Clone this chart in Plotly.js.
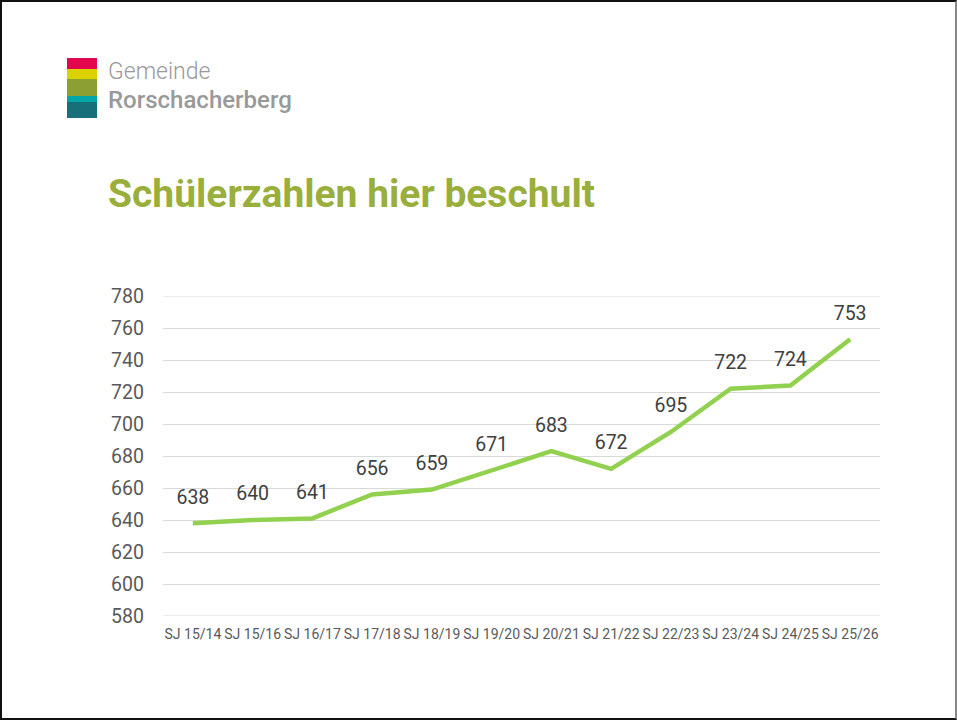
<!DOCTYPE html>
<html><head><meta charset="utf-8">
<script src="https://cdn.plot.ly/plotly-3.0.1.min.js"></script>
<style>
html,body{margin:0;padding:0;background:#fff;}
#frame{position:absolute;left:0;top:0;width:953px;height:716px;border-top:2px solid #111;border-left:2px solid #111;border-bottom:2px solid #111;border-right:2px solid #888;overflow:hidden;}
#chart{position:absolute;left:-2px;top:-2px;width:957px;height:720px;}
</style></head>
<body><div id="frame"><div id="chart"></div></div>
<script>
const categories = ["SJ 15/14","SJ 15/16","SJ 16/17","SJ 17/18","SJ 18/19","SJ 19/20","SJ 20/21","SJ 21/22","SJ 22/23","SJ 23/24","SJ 24/25","SJ 25/26"];
const pupils = [638,640,641,656,659,671,683,672,695,722,724,753];
const yTicks = [580,600,620,640,660,680,700,720,740,760,780];

const W=957,H=720,L=163,R=77,T=296,B=104;
const pw=W-L-R, ph=H-T-B;
const px=x=>(x-L)/pw, py=y=>(H-B-y)/ph;
const logoStripes=[["#e2074f",58,69],["#dbd300",69,79],["#8b9f32",79,96],["#00a6aa",96,102],["#176f79",102,118]];
const shapes=logoStripes.map(s=>({type:'rect',xref:'paper',yref:'paper',x0:px(67),x1:px(97),y0:py(s[2]),y1:py(s[1]),fillcolor:s[0],line:{width:0},layer:'above'}));
[yTicks[0], yTicks[yTicks.length-1]].forEach(v=>shapes.push({type:'line',xref:'paper',yref:'y',x0:0,x1:1,y0:v,y1:v,line:{color:'#d9d9d9',width:1},layer:'below'}));

const trace={x:categories,y:pupils,type:'scatter',mode:'lines+markers+text',text:pupils.map(String),textposition:'top center',
 textfont:{family:'Roboto, Liberation Sans, sans-serif',size:19.5,color:'#404040'},
 marker:{size:22,color:'rgba(0,0,0,0)'},
 line:{color:'#92d050',width:4.5,shape:'linear'},cliponaxis:false,hoverinfo:'skip'};

const layout={width:W,height:H,margin:{l:L,r:R,t:T,b:B},paper_bgcolor:'#fff',plot_bgcolor:'#fff',showlegend:false,
 font:{family:'Roboto, Liberation Sans, sans-serif'},
 title:{text:'Schülerzahlen hier beschult',x:108/W,xanchor:'left',xref:'container',yref:'container',y:1-193/H,yanchor:'middle',
   font:{family:'Roboto, Liberation Sans, sans-serif',size:39,color:'#9aae3c',weight:'bold'}},
 xaxis:{type:'category',range:[-0.5,11.5],showgrid:false,zeroline:false,showline:false,ticks:'',tickangle:0,
   tickfont:{size:14,color:'#595959'},ticklabelstandoff:8},
 yaxis:{range:[580,780],tickvals:yTicks,ticktext:yTicks.map(String),showgrid:true,gridcolor:'#d9d9d9',gridwidth:1,zeroline:false,showline:false,ticks:'',
   tickfont:{size:19.5,color:'#595959'},ticklabelstandoff:18},
 shapes:shapes,
 annotations:[
  {text:'<span style="font-size:23px;font-weight:300">Gemeinde</span><br><span style="font-size:24px;font-weight:500">Rorschacherberg</span>',
   xref:'paper',yref:'paper',x:px(106),y:py(86),xanchor:'left',yanchor:'middle',align:'left',showarrow:false,
   font:{family:'Roboto, sans-serif',size:22,color:'#999999'}}
 ]};
Plotly.newPlot('chart',[trace],layout,{displayModeBar:false,staticPlot:true});
</script></body></html>
